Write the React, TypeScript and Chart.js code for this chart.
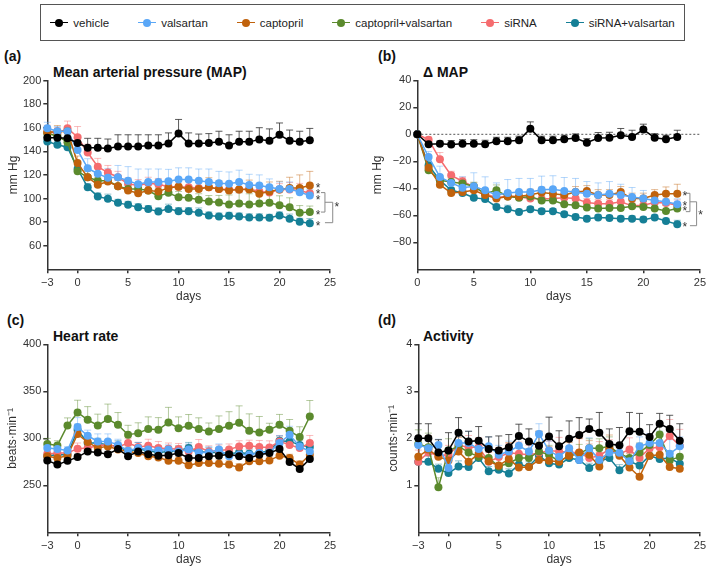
import React, { useEffect, useRef } from 'react';
import { Chart, registerables } from 'chart.js';

Chart.register(...registerables);

const FONT = '"Liberation Sans", Arial, Helvetica, sans-serif';

const SERIES_NAMES = ['vehicle', 'valsartan', 'captopril', 'captopril+valsartan', 'siRNA', 'siRNA+valsartan'];
const SERIES_COLORS = ['#000000', '#5aa7f7', '#c0620c', '#5b8a2d', '#f56c6f', '#157f96'];
const ERR_COLORS = [
  'rgba(50,50,50,0.8)',
  'rgba(90,167,247,0.45)',
  'rgba(192,98,12,0.45)',
  'rgba(91,138,45,0.45)',
  'rgba(245,108,111,0.45)',
  'rgba(21,127,150,0.45)',
];

const DAYS_FULL = [-3, -2, -1, 0, 1, 2, 3, 4, 5, 6, 7, 8, 9, 10, 11, 12, 13, 14, 15, 16, 17, 18, 19, 20, 21, 22, 23];
const DAYS_DELTA = [0, 1, 2, 3, 4, 5, 6, 7, 8, 9, 10, 11, 12, 13, 14, 15, 16, 17, 18, 19, 20, 21, 22, 23];

const X_TICKS_FULL = [-3, 0, 5, 10, 15, 20, 25];
const X_TICKS_DELTA = [0, 5, 10, 15, 20, 25];
const MAP_TICKS = [60, 80, 100, 120, 140, 160, 180, 200];
const DMAP_TICKS = [-80, -60, -40, -20, 0, 20, 40];
const HR_TICKS = [250, 300, 350, 400];
const ACT_TICKS = [1, 2, 3, 4];

// (a) Mean arterial pressure
const MAP_VEHICLE = [151.4, 151.4, 151, 147, 143, 143, 142.4, 144, 144, 144, 145, 145, 146.6, 155, 146.6, 146.6, 147, 148, 145, 148, 148, 150, 149, 154, 149, 148, 149.4];
const MAP_VALSARTAN = [159.6, 157, 157, 141, 125.7, 121, 117.5, 118, 115, 112, 114, 114, 114.7, 116, 116, 115, 114, 113, 112.5, 114, 111.5, 111, 109.6, 108, 108, 105.4, 102.5];
const MAP_CAPTOPRIL = [156, 156.8, 157, 130, 118, 111.6, 114.4, 110.4, 106.8, 104.5, 106.8, 106, 109, 110, 108, 108, 109.6, 108, 106.8, 107.6, 107.6, 104, 106, 107.6, 109, 109, 111];
const MAP_CAPTO_VALS = [155, 153, 147.7, 123, 118, 115, 115, 110.4, 108, 108, 106.8, 102, 104.8, 101, 100.6, 99, 97.5, 96.6, 95, 95.8, 95, 95.8, 96.3, 94.3, 92.6, 88, 88.6];
const MAP_SIRNA = [157, 155, 159.6, 152, 139, 127, 122, 118, 112.4, 111, 113, 112, 110, 110, 109.6, 109, 109.6, 108, 107.6, 107.6, 108, 106, 105, 107.6, 107.6, 106.8, 104.5];
const MAP_SIRNA_VALS = [148.3, 145.5, 143.5, 125, 109.6, 101.7, 99.7, 96.3, 94.6, 92.6, 91, 89, 91.2, 89.3, 89.3, 88, 85.6, 84.7, 85.3, 84.7, 84, 84, 83.6, 85.6, 82.8, 80.2, 79];

const MAP_ERR_VEHICLE = [4, 4, 4, 6, 8, 8, 8, 10, 10, 10, 9, 9, 9, 12, 9, 8, 8, 9, 9, 9, 9, 10, 10, 10, 9, 9, 10];
const MAP_ERR_VALSARTAN = [5, 4, 4, 5, 8, 8, 8, 10, 12, 13, 11, 11, 10, 10, 10, 10, 11, 10, 10, 10, 9, 9, 7, 6, 6, 5, 5];
const MAP_ERR_CAPTOPRIL = [5, 5, 4, 6, 6, 6, 6, 6, 5, 6, 6, 6, 6, 6, 7, 7, 8, 7, 6, 7, 8, 8, 8, 7, 9, 11, 12];
const MAP_ERR_CAPTO_VALS = [3, 3, 3, 4, 5, 5, 4, 5, 6, 5, 6, 7, 7, 5, 6, 5, 5, 6, 8, 9, 9, 9, 8, 8, 8, 6, 5];
const MAP_ERR_SIRNA = [5, 5, 6, 9, 7, 7, 6, 5, 5, 5, 5, 5, 6, 6, 5, 6, 6, 5, 6, 6, 5, 6, 6, 5, 6, 6, 5];
const MAP_ERR_SIRNA_VALS = [3, 3, 4, 3, 3, 3, 4, 3, 3, 3, 3, 3, 4, 3, 3, 4, 3, 3, 3, 3, 3, 3, 3, 3, 4, 3, 4];

// (b) delta MAP
const DMAP_VEHICLE = [0, -7.4, -7, -7.6, -7, -7, -7.4, -5.2, -5.2, -4.4, 4.2, -4.4, -4.4, -3.7, -2.7, -6.2, -2.7, -2.5, -0.7, -2, 3.5, -2.5, -3.7, -2];
const DMAP_VALSARTAN = [0, -16.8, -31.6, -36, -39.5, -38.5, -41.5, -45, -43.5, -42.7, -42.7, -41, -40.7, -42, -42.7, -44, -45, -44, -45, -46.4, -47.6, -49, -50, -51.8];
const DMAP_CAPTOPRIL = [0, -24.7, -37.3, -43.5, -42.7, -41.5, -45, -47.6, -46, -46, -44.7, -43.2, -44, -45, -42.7, -42, -45, -45, -42.7, -47.6, -47.6, -45, -44, -44];
const DMAP_CAPTO_VALS = [0, -26.7, -34, -35.3, -36.5, -38.5, -44, -41.5, -46, -47, -46, -49, -49, -51.8, -52.6, -54.3, -55, -54.6, -54.6, -53.3, -53.8, -55, -56.8, -55];
const DMAP_SIRNA = [0, -4, -18.5, -30.4, -34.8, -39, -44, -47, -45.7, -46.4, -47.6, -48, -47.6, -47, -47.6, -50.6, -51.4, -51.4, -50, -53, -52.6, -50.6, -50.9, -52.6];
const DMAP_SIRNA_VALS = [0, -23, -34, -41.5, -43.5, -47, -48, -53.8, -55.5, -57.5, -55.5, -57, -57, -59.3, -61.2, -62.5, -61.7, -62, -62.5, -62.5, -63.2, -61.7, -64.2, -66.7];

const DMAP_ERR_VEHICLE = [0, 2, 2, 3, 3, 3, 3, 3, 3, 3, 5, 3, 3, 3, 3, 3, 4, 4, 5, 5, 4, 3, 3, 5];
const DMAP_ERR_VALSARTAN = [0, 4, 8, 6, 8, 10, 10, 9, 10, 10, 10, 10, 10, 10, 10, 9, 9, 9, 8, 7, 6, 5, 5, 4];
const DMAP_ERR_CAPTOPRIL = [0, 3, 3, 3, 3, 3, 3, 3, 3, 4, 4, 4, 4, 4, 4, 4, 4, 4, 4, 4, 4, 4, 5, 7];
const DMAP_ERR_CAPTO_VALS = [0, 2, 3, 3, 3, 3, 3, 4, 4, 4, 4, 5, 4, 4, 4, 4, 5, 4, 4, 4, 4, 4, 4, 4];
const DMAP_ERR_SIRNA = [0, 2, 5, 3, 3, 3, 3, 3, 3, 3, 3, 3, 3, 3, 3, 3, 3, 3, 3, 3, 3, 3, 3, 4];
const DMAP_ERR_SIRNA_VALS = [0, 2, 2, 2, 2, 2, 2, 2, 3, 2, 2, 2, 2, 2, 2, 2, 2, 2, 2, 2, 2, 2, 2, 3];

// (c) Heart rate
const HR_VEHICLE = [276.5, 272, 276, 280, 286, 285, 283, 288.5, 281, 286, 283, 281.5, 282, 284.3, 279, 279, 281, 281.5, 283, 281, 279, 282.5, 284.3, 288.5, 274.8, 267.3, 278];
const HR_VALSARTAN = [289.6, 288.5, 287, 312, 302.7, 296.7, 296.7, 293, 286.8, 289.6, 288, 287, 288, 286, 288, 285, 285, 288, 281, 282.5, 282.5, 284.3, 285, 295, 303.8, 291.4, 286];
const HR_CAPTOPRIL = [280.8, 279, 281.5, 304.5, 296, 289.6, 291.4, 288, 286, 284.3, 281, 279.7, 276.2, 276.2, 271.2, 273.7, 273.7, 273, 272, 269, 275.5, 275.5, 276.5, 281.5, 279, 272, 282.5];
const HR_CAPTO_VALS = [293.9, 292.4, 313.7, 327.5, 319.7, 313.7, 320.4, 314.4, 303.8, 305.5, 309.8, 309, 316.9, 310.8, 313.3, 309.8, 307.3, 309.8, 313.3, 316.5, 308, 306.2, 309, 314.4, 308, 301.3, 323.2];
const HR_SIRNA = [283.2, 284.3, 284.3, 289, 289.6, 292, 293, 290.7, 295, 290.7, 292, 289.6, 289, 288.5, 286, 290.7, 286, 287, 288, 291.4, 292, 290.7, 290.3, 296.7, 293, 289.6, 295];
const HR_SIRNA_VALS = [281.5, 282.5, 282.5, 309, 295, 295, 293, 291.4, 286, 288.5, 286.8, 285, 286, 287, 289.6, 286, 285, 285, 283.6, 285, 283.6, 284.3, 287, 297.4, 296.7, 293, 290.7];

const HR_ERR_VEHICLE = [3, 3, 3, 3, 3, 3, 3, 3, 3, 4, 3, 3, 3, 3, 3, 3, 3, 3, 3, 3, 3, 3, 3, 3, 4, 3, 3];
const HR_ERR_VALSARTAN = [4, 4, 4, 10, 6, 8, 8, 6, 6, 6, 5, 5, 5, 5, 6, 5, 6, 6, 6, 5, 5, 5, 5, 8, 9, 8, 6];
const HR_ERR_CAPTOPRIL = [3, 3, 3, 5, 5, 4, 4, 4, 4, 4, 4, 4, 4, 4, 4, 4, 4, 4, 4, 4, 4, 4, 4, 4, 4, 4, 4];
const HR_ERR_CAPTO_VALS = [6, 5, 8, 13, 14, 12, 16, 13, 10, 11, 13, 13, 16, 12, 12, 12, 9, 14, 15, 18, 18, 17, 7, 11, 12, 11, 17];
const HR_ERR_SIRNA = [4, 4, 4, 6, 5, 5, 5, 5, 5, 5, 7, 7, 6, 6, 7, 8, 6, 6, 6, 6, 6, 7, 7, 6, 6, 6, 8];
const HR_ERR_SIRNA_VALS = [4, 4, 4, 6, 5, 5, 5, 6, 6, 7, 6, 5, 5, 5, 6, 5, 5, 5, 5, 5, 5, 5, 5, 5, 5, 5, 5];

// (d) Activity
const ACT_VEHICLE = [2.0, 2.0, 1.7, 1.74, 2.12, 1.93, 1.95, 1.77, 1.74, 1.81, 2.05, 1.93, 1.84, 2.04, 1.83, 1.99, 2.07, 2.2, 2.12, 1.88, 1.85, 2.15, 2.14, 2.03, 2.31, 2.2, 1.95];
const ACT_VALSARTAN = [1.86, 1.79, 1.86, 1.37, 1.9, 1.9, 1.77, 1.83, 1.65, 1.72, 1.84, 1.72, 2.09, 1.74, 1.61, 1.79, 1.54, 1.79, 1.54, 1.7, 1.69, 1.51, 1.83, 1.9, 1.9, 1.67, 1.83];
const ACT_CAPTOPRIL = [1.61, 1.76, 1.61, 1.53, 1.72, 1.5, 1.67, 1.51, 1.42, 1.56, 1.38, 1.39, 1.54, 1.52, 1.5, 1.63, 1.7, 1.65, 1.4, 1.77, 1.63, 1.38, 1.18, 1.63, 1.65, 1.39, 1.35];
const ACT_CAPTO_VALS = [1.88, 1.81, 0.96, 1.74, 1.83, 1.7, 1.61, 1.58, 1.4, 1.47, 1.58, 1.58, 1.72, 1.65, 1.51, 1.63, 1.67, 1.79, 1.79, 1.83, 1.67, 1.58, 1.7, 1.86, 2.08, 1.53, 1.61];
const ACT_SIRNA = [1.5, 1.7, 1.63, 1.65, 1.85, 1.81, 1.81, 1.5, 1.6, 1.69, 1.67, 1.65, 1.69, 1.74, 1.72, 1.71, 1.69, 1.58, 1.63, 1.77, 1.67, 1.76, 1.58, 1.79, 1.81, 2.05, 1.84];
const ACT_SIRNA_VALS = [1.5, 1.5, 1.35, 1.26, 1.4, 1.39, 1.58, 1.3, 1.33, 1.25, 1.44, 1.4, 1.63, 1.47, 1.44, 1.58, 1.54, 1.37, 1.51, 1.58, 1.32, 1.51, 1.42, 1.63, 1.56, 1.58, 1.46];

const ACT_ERR_VEHICLE = [0.31, 0.31, 0.27, 0.38, 0.32, 0.22, 0.3, 0.26, 0.31, 0.27, 0.25, 0.27, 0.31, 0.41, 0.33, 0.38, 0.37, 0.21, 0.43, 0.32, 0.38, 0.4, 0.39, 0.26, 0.22, 0.29, 0.36];
const ACT_ERR_VALSARTAN = [0.15, 0.15, 0.12, 0.15, 0.2, 0.25, 0.2, 0.2, 0.2, 0.22, 0.2, 0.2, 0.22, 0.2, 0.2, 0.2, 0.2, 0.22, 0.25, 0.2, 0.2, 0.2, 0.2, 0.2, 0.25, 0.3, 0.2];
const ACT_ERR_CAPTOPRIL = [0.3, 0.3, 0.2, 0.25, 0.3, 0.3, 0.25, 0.25, 0.3, 0.35, 0.3, 0.3, 0.28, 0.3, 0.3, 0.28, 0.3, 0.3, 0.3, 0.3, 0.25, 0.3, 0.3, 0.3, 0.3, 0.3, 0.3];
const ACT_ERR_CAPTO_VALS = [0.3, 0.3, 0.2, 0.25, 0.25, 0.2, 0.2, 0.2, 0.2, 0.2, 0.25, 0.2, 0.2, 0.2, 0.2, 0.2, 0.2, 0.2, 0.2, 0.2, 0.2, 0.2, 0.2, 0.2, 0.2, 0.2, 0.2];
const ACT_ERR_SIRNA = [0.25, 0.25, 0.2, 0.2, 0.3, 0.25, 0.2, 0.2, 0.2, 0.2, 0.25, 0.2, 0.2, 0.2, 0.3, 0.3, 0.3, 0.3, 0.3, 0.2, 0.2, 0.25, 0.3, 0.3, 0.3, 0.35, 0.35];
const ACT_ERR_SIRNA_VALS = [0.12, 0.12, 0.1, 0.1, 0.12, 0.1, 0.1, 0.1, 0.1, 0.1, 0.12, 0.1, 0.1, 0.1, 0.1, 0.1, 0.1, 0.1, 0.1, 0.1, 0.12, 0.1, 0.1, 0.1, 0.1, 0.12, 0.1];

type Seg = [number, number, number, number];
type PanelCfg = {
  id: string;
  left: number; top: number; width: number; height: number;
  yWidth: number; xHeight: number; padTop: number; padRight: number;
  days: number[]; series: number[][]; errors: number[][];
  xMin: number; xMax: number; xTicks: number[];
  yMin: number; yMax: number; yTicks: number[];
  yTitle: string; yTitlePad: number; xTitlePad: number;
  zeroLine?: boolean;
  stars: [number, number][];
  bigStars: [number, number][];
  segs: Seg[];
};

const PANELS: PanelCfg[] = [
  {
    id: 'a', left: 0, top: 70, width: 345, height: 240,
    yWidth: 47.3, xHeight: 40.7, padTop: 10.5, padRight: 15,
    days: DAYS_FULL,
    series: [MAP_VEHICLE, MAP_VALSARTAN, MAP_CAPTOPRIL, MAP_CAPTO_VALS, MAP_SIRNA, MAP_SIRNA_VALS],
    errors: [MAP_ERR_VEHICLE, MAP_ERR_VALSARTAN, MAP_ERR_CAPTOPRIL, MAP_ERR_CAPTO_VALS, MAP_ERR_SIRNA, MAP_ERR_SIRNA_VALS],
    xMin: -3, xMax: 25, xTicks: X_TICKS_FULL,
    yMin: 40, yMax: 200, yTicks: MAP_TICKS,
    yTitle: 'mm Hg', yTitlePad: 6.4, xTitlePad: 6.4,
    stars: [[23.81, 110.7], [23.81, 105.4], [23.81, 100.6], [23.81, 87.6], [23.81, 78.5]],
    bigStars: [[25.67, 94]],
    segs: [
      [24.11, 105, 24.5, 105], [24.5, 105, 24.5, 88.5], [24.11, 88.5, 24.5, 88.5],
      [24.5, 96.8, 25.27, 96.8], [25.27, 96.8, 25.27, 79.5], [24.5, 79.5, 25.27, 79.5],
    ],
  },
  {
    id: 'b', left: 370, top: 70, width: 339, height: 240,
    yWidth: 47.3, xHeight: 40.7, padTop: 10.3, padRight: 9,
    days: DAYS_DELTA,
    series: [DMAP_VEHICLE, DMAP_VALSARTAN, DMAP_CAPTOPRIL, DMAP_CAPTO_VALS, DMAP_SIRNA, DMAP_SIRNA_VALS],
    errors: [DMAP_ERR_VEHICLE, DMAP_ERR_VALSARTAN, DMAP_ERR_CAPTOPRIL, DMAP_ERR_CAPTO_VALS, DMAP_ERR_SIRNA, DMAP_ERR_SIRNA_VALS],
    xMin: 0, xMax: 25, xTicks: X_TICKS_DELTA,
    yMin: -100, yMax: 40, yTicks: DMAP_TICKS,
    yTitle: 'mm Hg', yTitlePad: 0.1, xTitlePad: 6.4,
    zeroLine: true,
    stars: [[23.67, -44], [23.67, -51.4], [23.67, -55.8], [23.67, -67.4]],
    bigStars: [[25.06, -58.5]],
    segs: [
      [23.76, -43.7, 24.12, -43.7], [24.12, -43.7, 24.12, -57.3], [23.76, -57.3, 24.12, -57.3],
      [24.12, -50, 24.71, -50], [24.71, -50, 24.71, -67.7], [24.12, -67.7, 24.71, -67.7],
    ],
  },
  {
    id: 'c', left: 0, top: 330, width: 345, height: 239,
    yWidth: 47.3, xHeight: 36.7, padTop: 14.3, padRight: 15,
    days: DAYS_FULL,
    series: [HR_VEHICLE, HR_VALSARTAN, HR_CAPTOPRIL, HR_CAPTO_VALS, HR_SIRNA, HR_SIRNA_VALS],
    errors: [HR_ERR_VEHICLE, HR_ERR_VALSARTAN, HR_ERR_CAPTOPRIL, HR_ERR_CAPTO_VALS, HR_ERR_SIRNA, HR_ERR_SIRNA_VALS],
    xMin: -3, xMax: 25, xTicks: X_TICKS_FULL,
    yMin: 200, yMax: 400, yTicks: HR_TICKS,
    yTitle: 'beats·min⁻¹', yTitlePad: 5.1, xTitlePad: 2.4,
    stars: [], bigStars: [], segs: [],
  },
  {
    id: 'd', left: 370, top: 330, width: 339, height: 239,
    yWidth: 48.3, xHeight: 36.7, padTop: 14.3, padRight: 8.3,
    days: DAYS_FULL,
    series: [ACT_VEHICLE, ACT_VALSARTAN, ACT_CAPTOPRIL, ACT_CAPTO_VALS, ACT_SIRNA, ACT_SIRNA_VALS],
    errors: [ACT_ERR_VEHICLE, ACT_ERR_VALSARTAN, ACT_ERR_CAPTOPRIL, ACT_ERR_CAPTO_VALS, ACT_ERR_SIRNA, ACT_ERR_SIRNA_VALS],
    xMin: -3, xMax: 25, xTicks: X_TICKS_FULL,
    yMin: 0, yMax: 4, yTicks: ACT_TICKS,
    yTitle: 'counts·min⁻¹', yTitlePad: 16.2, xTitlePad: 2.4,
    stars: [], bigStars: [], segs: [],
  },
];

const fmt = (v: number) => (v < 0 ? '\u2212' + Math.abs(v) : String(v));

function ChartPanel({ cfg }: { cfg: PanelCfg }) {
  const ref = useRef<HTMLCanvasElement>(null);
  useEffect(() => {
    const canvas = ref.current;
    if (!canvas) return;
    const annot = {
      id: 'annot_' + cfg.id,
      beforeDatasetsDraw(chart: any) {
        const ctx = chart.ctx;
        const xs = chart.scales.x;
        const ys = chart.scales.y;
        ctx.save();
        if (cfg.zeroLine) {
          ctx.strokeStyle = '#555';
          ctx.lineWidth = 1;
          ctx.setLineDash([2, 2]);
          ctx.beginPath();
          ctx.moveTo(xs.getPixelForValue(cfg.xMin), ys.getPixelForValue(0));
          ctx.lineTo(xs.getPixelForValue(cfg.xMax), ys.getPixelForValue(0));
          ctx.stroke();
          ctx.setLineDash([]);
        }
        for (let i = cfg.series.length - 1; i >= 0; i--) {
          ctx.strokeStyle = ERR_COLORS[i];
          ctx.lineWidth = 1;
          const vals = cfg.series[i];
          const errs = cfg.errors[i];
          for (let j = 0; j < vals.length; j++) {
            if (!errs[j]) continue;
            const x = xs.getPixelForValue(cfg.days[j]);
            const y0 = ys.getPixelForValue(vals[j]);
            const y1 = ys.getPixelForValue(vals[j] + errs[j]);
            ctx.beginPath();
            ctx.moveTo(x, y0);
            ctx.lineTo(x, y1);
            ctx.moveTo(x - 3.5, y1);
            ctx.lineTo(x + 3.5, y1);
            ctx.stroke();
          }
        }
        ctx.restore();
      },
      afterDatasetsDraw(chart: any) {
        const ctx = chart.ctx;
        const xs = chart.scales.x;
        const ys = chart.scales.y;
        ctx.save();
        ctx.strokeStyle = '#8a8a8a';
        ctx.lineWidth = 1;
        for (const s of cfg.segs) {
          ctx.beginPath();
          ctx.moveTo(xs.getPixelForValue(s[0]), ys.getPixelForValue(s[1]));
          ctx.lineTo(xs.getPixelForValue(s[2]), ys.getPixelForValue(s[3]));
          ctx.stroke();
        }
        ctx.fillStyle = '#333';
        ctx.font = `12px ${FONT}`;
        ctx.textAlign = 'center';
        ctx.textBaseline = 'middle';
        for (const st of [...cfg.stars, ...cfg.bigStars]) {
          ctx.fillText('*', xs.getPixelForValue(st[0]), ys.getPixelForValue(st[1]) + 2.5);
        }
        ctx.restore();
      },
    };
    const axisCommon = {
      border: { display: true, color: '#333', width: 1.5 },
      grid: { display: true, drawOnChartArea: false, drawTicks: true, tickLength: 4, color: '#333', lineWidth: 1.5 },
    };
    const chart = new Chart(canvas, {
      type: 'line',
      data: {
        datasets: cfg.series.map((vals, i) => ({
          label: SERIES_NAMES[i],
          data: vals.map((v, j) => ({ x: cfg.days[j], y: v })),
          borderColor: SERIES_COLORS[i],
          backgroundColor: SERIES_COLORS[i],
          pointBackgroundColor: SERIES_COLORS[i],
          pointBorderColor: SERIES_COLORS[i],
          pointRadius: 4,
          pointBorderWidth: 0,
          borderWidth: 1.5,
          tension: 0,
          clip: false as any,
        })),
      },
      options: {
        animation: false,
        responsive: false,
        maintainAspectRatio: false,
        devicePixelRatio: 1,
        events: [],
        layout: { padding: { left: 0, top: cfg.padTop, right: cfg.padRight, bottom: 0 } },
        plugins: { legend: { display: false }, tooltip: { enabled: false } },
        scales: {
          x: {
            type: 'linear',
            min: cfg.xMin,
            max: cfg.xMax,
            afterBuildTicks: (s: any) => { s.ticks = cfg.xTicks.map((v) => ({ value: v })); },
            afterFit: (s: any) => { s.height = cfg.xHeight; },
            ticks: { autoSkip: false, maxRotation: 0, padding: 3, color: '#333', font: { family: FONT, size: 11 }, callback: (v: any) => fmt(Number(v)) },
            title: { display: true, text: 'days', color: '#333', font: { family: FONT, size: 12 }, padding: { top: 0, bottom: cfg.xTitlePad } },
            ...axisCommon,
          },
          y: {
            type: 'linear',
            min: cfg.yMin,
            max: cfg.yMax,
            afterBuildTicks: (s: any) => { s.ticks = cfg.yTicks.map((v) => ({ value: v })); },
            afterFit: (s: any) => { s.width = cfg.yWidth; },
            ticks: { autoSkip: false, padding: 2, color: '#333', font: { family: FONT, size: 11 }, callback: (v: any) => fmt(Number(v)) },
            title: { display: true, text: cfg.yTitle, color: '#333', font: { family: FONT, size: 12 }, padding: { top: cfg.yTitlePad, bottom: 0 } },
            ...axisCommon,
          },
        },
      } as any,
      plugins: [annot],
    });
    return () => chart.destroy();
  }, [cfg]);
  return (
    <canvas
      ref={ref}
      width={cfg.width}
      height={cfg.height}
      style={{ position: 'absolute', left: cfg.left, top: cfg.top, width: cfg.width, height: cfg.height }}
    />
  );
}

const PANEL_LABELS: { text: string; left: number; top: number }[] = [
  { text: '(a)', left: 4, top: 49 },
  { text: '(b)', left: 378, top: 49 },
  { text: '(c)', left: 7, top: 313 },
  { text: '(d)', left: 378, top: 313 },
];
const PANEL_TITLES: { text: string; left: number; top: number }[] = [
  { text: 'Mean arterial pressure (MAP)', left: 53, top: 65 },
  { text: 'Δ MAP', left: 423, top: 65 },
  { text: 'Heart rate', left: 53, top: 328.6 },
  { text: 'Activity', left: 423, top: 328.6 },
];

export default function App() {
  return (
    <div style={{ position: 'relative', width: 709, height: 569, overflow: 'hidden', background: '#fff', fontFamily: FONT }}>
      <style>{`html,body{margin:0;padding:0;overflow:hidden;background:#fff}`}</style>
      <div
        style={{
          position: 'absolute', left: 40, top: 4, width: 645, height: 37, boxSizing: 'border-box',
          border: '1px solid #555', display: 'flex', alignItems: 'center', justifyContent: 'center',
          gap: 29, fontSize: 11.5, color: '#222',
        }}
      >
        {SERIES_NAMES.map((n, i) => (
          <div key={n} style={{ display: 'flex', alignItems: 'center', whiteSpace: 'nowrap' }}>
            <span style={{ position: 'relative', display: 'inline-block', width: 18, height: 8, marginRight: 5 }}>
              <span style={{ position: 'absolute', left: 0, top: 3.25, width: 18, height: 1.5, background: SERIES_COLORS[i] }} />
              <span style={{ position: 'absolute', left: 5, top: 0, width: 8, height: 8, borderRadius: 4, background: SERIES_COLORS[i] }} />
            </span>
            {n}
          </div>
        ))}
      </div>
      {PANEL_LABELS.map((l) => (
        <div key={l.text} style={{ position: 'absolute', left: l.left, top: l.top, fontSize: 14, lineHeight: '14px', fontWeight: 'bold', color: '#111', whiteSpace: 'nowrap' }}>{l.text}</div>
      ))}
      {PANEL_TITLES.map((l) => (
        <div key={l.text} style={{ position: 'absolute', left: l.left, top: l.top, fontSize: 14, lineHeight: '14px', fontWeight: 'bold', color: '#111', whiteSpace: 'nowrap' }}>{l.text}</div>
      ))}
      {PANELS.map((p) => (
        <ChartPanel key={p.id} cfg={p} />
      ))}
    </div>
  );
}
